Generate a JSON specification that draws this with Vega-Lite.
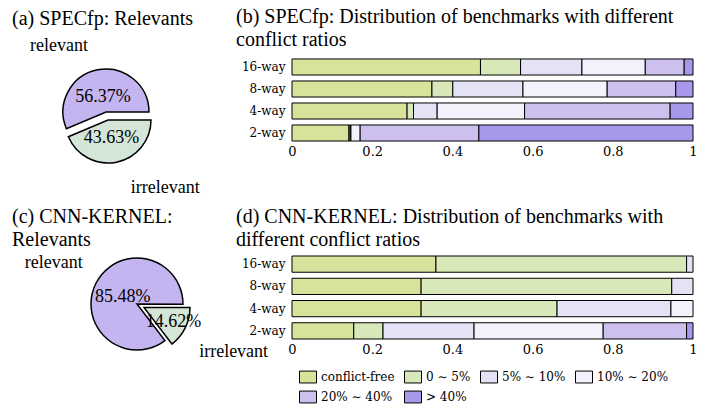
{
  "$schema": "https://vega.github.io/schema/vega-lite/v6.json",
  "padding": {"left": 12, "top": 7, "right": 5, "bottom": 0},
  "background": "white",
  "columns": 2,
  "bounds": "flush",
  "align": "each",
  "spacing": {"row": 85, "column": 88},
  "config": {
    "view": {"stroke": null},
    "title": {"anchor": "start", "frame": "group", "font": "Liberation Serif", "fontSize": 20, "fontWeight": "normal", "lineHeight": 23, "color": "black"},
    "text": {"font": "Liberation Serif", "fontSize": 18, "color": "black"}
  },
  "concat": [
    {
      "width": 192, "height": 112,
      "title": {"text": "(a) SPECfp: Relevants", "offset": 8},
      "data": {"values": [
        {"label": "relevant", "pct": 0.5637},
        {"label": "irrelevant", "pct": 0.4363}
      ]},
      "encoding": {
        "theta": {"field": "pct", "type": "quantitative", "stack": true, "scale": {"domain": [0, 1], "range": [1.5708, 7.854]}},
        "order": {"field": "label", "type": "ordinal", "sort": "ascending"},
        "detail": {"field": "label", "type": "nominal"}
      },
      "layer": [
        {"mark": {"type": "arc", "radius": 43, "stroke": "black", "strokeWidth": 1.5, "xOffset": -2},
         "encoding": {
           "fill": {"field": "label", "type": "nominal", "scale": {"domain": ["relevant", "irrelevant"], "range": ["#c4b4f0", "#d4e6d8"]}, "legend": null},
           "opacity": {"condition": {"test": "datum.label === 'relevant'", "value": 1}, "value": 0}}},
        {"mark": {"type": "arc", "radius": 43, "stroke": "black", "strokeWidth": 1.5, "xOffset": 0, "yOffset": 8},
         "encoding": {
           "fill": {"field": "label", "type": "nominal", "scale": {"domain": ["relevant", "irrelevant"], "range": ["#c4b4f0", "#d4e6d8"]}, "legend": null},
           "opacity": {"condition": {"test": "datum.label === 'irrelevant'", "value": 1}, "value": 0}}},
        {"mark": {"type": "text", "radius": 15, "xOffset": -2},
         "encoding": {"text": {"field": "pct", "type": "quantitative", "format": ".2%"},
           "opacity": {"condition": {"test": "datum.label === 'relevant'", "value": 1}, "value": 0}}},
        {"mark": {"type": "text", "radius": 18, "yOffset": 8},
         "encoding": {"text": {"field": "pct", "type": "quantitative", "format": ".2%"},
           "opacity": {"condition": {"test": "datum.label === 'irrelevant'", "value": 1}, "value": 0}}},
        {"mark": {"type": "text", "radius": 81, "thetaOffset": -0.42, "xOffset": -2},
         "encoding": {"text": {"field": "label", "type": "nominal"},
           "opacity": {"condition": {"test": "datum.label === 'relevant'", "value": 1}, "value": 0}}},
        {"mark": {"type": "text", "radius": 89, "thetaOffset": -0.5, "yOffset": 8},
         "encoding": {"text": {"field": "label", "type": "nominal"},
           "opacity": {"condition": {"test": "datum.label === 'irrelevant'", "value": 1}, "value": 0}}}
      ]
    },
    {
      "width": 401, "height": 88,
      "title": {"text": ["(b) SPECfp: Distribution of benchmarks with different", "conflict ratios"], "offset": 6, "dx": -56},
      "data": {"values": [
        {"way": "16-way", "cat": "conflict-free", "ci": 0, "v": 0.470},
        {"way": "16-way", "cat": "0 ∼ 5%", "ci": 1, "v": 0.100},
        {"way": "16-way", "cat": "5% ∼ 10%", "ci": 2, "v": 0.153},
        {"way": "16-way", "cat": "10% ∼ 20%", "ci": 3, "v": 0.158},
        {"way": "16-way", "cat": "20% ∼ 40%", "ci": 4, "v": 0.097},
        {"way": "16-way", "cat": "> 40%", "ci": 5, "v": 0.022},
        {"way": "8-way", "cat": "conflict-free", "ci": 0, "v": 0.349},
        {"way": "8-way", "cat": "0 ∼ 5%", "ci": 1, "v": 0.052},
        {"way": "8-way", "cat": "5% ∼ 10%", "ci": 2, "v": 0.175},
        {"way": "8-way", "cat": "10% ∼ 20%", "ci": 3, "v": 0.210},
        {"way": "8-way", "cat": "20% ∼ 40%", "ci": 4, "v": 0.171},
        {"way": "8-way", "cat": "> 40%", "ci": 5, "v": 0.043},
        {"way": "4-way", "cat": "conflict-free", "ci": 0, "v": 0.287},
        {"way": "4-way", "cat": "0 ∼ 5%", "ci": 1, "v": 0.016},
        {"way": "4-way", "cat": "5% ∼ 10%", "ci": 2, "v": 0.059},
        {"way": "4-way", "cat": "10% ∼ 20%", "ci": 3, "v": 0.218},
        {"way": "4-way", "cat": "20% ∼ 40%", "ci": 4, "v": 0.363},
        {"way": "4-way", "cat": "> 40%", "ci": 5, "v": 0.057},
        {"way": "2-way", "cat": "conflict-free", "ci": 0, "v": 0.142},
        {"way": "2-way", "cat": "0 ∼ 5%", "ci": 1, "v": 0.003},
        {"way": "2-way", "cat": "5% ∼ 10%", "ci": 2, "v": 0.002},
        {"way": "2-way", "cat": "10% ∼ 20%", "ci": 3, "v": 0.023},
        {"way": "2-way", "cat": "20% ∼ 40%", "ci": 4, "v": 0.296},
        {"way": "2-way", "cat": "> 40%", "ci": 5, "v": 0.534}
      ]},
      "mark": {"type": "bar", "stroke": "black", "strokeWidth": 1},
      "encoding": {
        "y": {"field": "way", "type": "nominal", "sort": ["16-way", "8-way", "4-way", "2-way"],
              "scale": {"paddingInner": 0.27, "paddingOuter": 0.135},
              "axis": {"title": null, "domain": false, "ticks": false, "labelFont": "DejaVu Serif", "labelFontSize": 12, "labelPadding": 7, "labelColor": "black"}},
        "x": {"field": "v", "type": "quantitative", "stack": "zero", "scale": {"domain": [0, 1]},
              "axis": {"title": null, "domain": false, "ticks": false, "grid": false, "values": [0, 0.2, 0.4, 0.6, 0.8, 1], "format": "~g", "labelFlush": false, "labelFont": "DejaVu Serif", "labelFontSize": 13, "labelPadding": 1, "labelColor": "black"}},
        "color": {"field": "cat", "type": "nominal",
                  "scale": {"domain": ["conflict-free", "0 ∼ 5%", "5% ∼ 10%", "10% ∼ 20%", "20% ∼ 40%", "> 40%"],
                            "range": ["#d8e29a", "#d8e8b8", "#e4e3f6", "#f3f1fb", "#cdc0ee", "#a898ec"]},
                  "legend": {"orient": "none", "legendX": 287, "legendY": 312, "columns": 4, "direction": "horizontal", "title": null,
                             "symbolType": "M-1,-0.7L1,-0.7L1,0.7L-1,0.7Z", "symbolSize": 289, "symbolStrokeColor": "black", "symbolStrokeWidth": 1, "symbolOpacity": 1,
                             "labelFont": "DejaVu Serif", "labelFontSize": 12, "labelColor": "black", "labelOffset": 4, "columnPadding": 7, "rowPadding": 3, "labelLimit": 200, "padding": 0}},
        "order": {"field": "ci", "type": "quantitative"}
      }
    },
    {
      "width": 192, "height": 102,
      "title": {"text": ["(c) CNN-KERNEL:", "Relevants"], "offset": 3},
      "data": {"values": [
        {"label": "relevant", "pct": 0.8548},
        {"label": "irrelevant", "pct": 0.1462}
      ]},
      "encoding": {
        "theta": {"field": "pct", "type": "quantitative", "stack": true, "scale": {"domain": [0, 1], "range": [1.5708, 7.854]}},
        "order": {"field": "label", "type": "ordinal", "sort": "ascending"},
        "detail": {"field": "label", "type": "nominal"}
      },
      "layer": [
        {"mark": {"type": "arc", "radius": 46, "stroke": "black", "strokeWidth": 1.5, "xOffset": 29},
         "encoding": {
           "fill": {"field": "label", "type": "nominal", "scale": {"domain": ["relevant", "irrelevant"], "range": ["#c4b4f0", "#d4e6d8"]}, "legend": null},
           "opacity": {"condition": {"test": "datum.label === 'relevant'", "value": 1}, "value": 0}}},
        {"mark": {"type": "arc", "radius": 46, "stroke": "black", "strokeWidth": 1.5, "xOffset": 36, "yOffset": 3.5},
         "encoding": {
           "fill": {"field": "label", "type": "nominal", "scale": {"domain": ["relevant", "irrelevant"], "range": ["#c4b4f0", "#d4e6d8"]}, "legend": null},
           "opacity": {"condition": {"test": "datum.label === 'irrelevant'", "value": 1}, "value": 0}}},
        {"mark": {"type": "text", "radius": 16, "xOffset": 29},
         "encoding": {"text": {"field": "pct", "type": "quantitative", "format": ".2%"},
           "opacity": {"condition": {"test": "datum.label === 'relevant'", "value": 1}, "value": 0}}},
        {"mark": {"type": "text", "radius": 33, "xOffset": 36, "yOffset": 3.5},
         "encoding": {"text": {"field": "pct", "type": "quantitative", "format": ".2%"},
           "opacity": {"condition": {"test": "datum.label === 'irrelevant'", "value": 1}, "value": 0}}},
        {"mark": {"type": "text", "radius": 93, "xOffset": 29},
         "encoding": {"text": {"field": "label", "type": "nominal"},
           "opacity": {"condition": {"test": "datum.label === 'relevant'", "value": 1}, "value": 0}}},
        {"mark": {"type": "text", "radius": 100, "xOffset": 36, "yOffset": 3.5},
         "encoding": {"text": {"field": "label", "type": "nominal"},
           "opacity": {"condition": {"test": "datum.label === 'irrelevant'", "value": 1}, "value": 0}}}
      ]
    },
    {
      "width": 401, "height": 89,
      "title": {"text": ["(d) CNN-KERNEL: Distribution of benchmarks with", "different conflict ratios"], "offset": 3, "dx": -56},
      "data": {"values": [
        {"way": "16-way", "cat": "conflict-free", "ci": 0, "v": 0.359},
        {"way": "16-way", "cat": "0 ∼ 5%", "ci": 1, "v": 0.625},
        {"way": "16-way", "cat": "5% ∼ 10%", "ci": 2, "v": 0.016},
        {"way": "8-way", "cat": "conflict-free", "ci": 0, "v": 0.322},
        {"way": "8-way", "cat": "0 ∼ 5%", "ci": 1, "v": 0.625},
        {"way": "8-way", "cat": "5% ∼ 10%", "ci": 2, "v": 0.053},
        {"way": "4-way", "cat": "conflict-free", "ci": 0, "v": 0.322},
        {"way": "4-way", "cat": "0 ∼ 5%", "ci": 1, "v": 0.339},
        {"way": "4-way", "cat": "5% ∼ 10%", "ci": 2, "v": 0.284},
        {"way": "4-way", "cat": "10% ∼ 20%", "ci": 3, "v": 0.055},
        {"way": "2-way", "cat": "conflict-free", "ci": 0, "v": 0.154},
        {"way": "2-way", "cat": "0 ∼ 5%", "ci": 1, "v": 0.073},
        {"way": "2-way", "cat": "5% ∼ 10%", "ci": 2, "v": 0.227},
        {"way": "2-way", "cat": "10% ∼ 20%", "ci": 3, "v": 0.322},
        {"way": "2-way", "cat": "20% ∼ 40%", "ci": 4, "v": 0.208},
        {"way": "2-way", "cat": "> 40%", "ci": 5, "v": 0.016}
      ]},
      "mark": {"type": "bar", "stroke": "black", "strokeWidth": 1},
      "encoding": {
        "y": {"field": "way", "type": "nominal", "sort": ["16-way", "8-way", "4-way", "2-way"],
              "scale": {"paddingInner": 0.27, "paddingOuter": 0.135},
              "axis": {"title": null, "domain": false, "ticks": false, "labelFont": "DejaVu Serif", "labelFontSize": 12, "labelPadding": 7, "labelColor": "black"}},
        "x": {"field": "v", "type": "quantitative", "stack": "zero", "scale": {"domain": [0, 1]},
              "axis": {"title": null, "domain": false, "ticks": false, "grid": false, "values": [0, 0.2, 0.4, 0.6, 0.8, 1], "format": "~g", "labelFlush": false, "labelFont": "DejaVu Serif", "labelFontSize": 13, "labelPadding": 1, "labelColor": "black"}},
        "color": {"field": "cat", "type": "nominal",
                  "scale": {"domain": ["conflict-free", "0 ∼ 5%", "5% ∼ 10%", "10% ∼ 20%", "20% ∼ 40%", "> 40%"],
                            "range": ["#d8e29a", "#d8e8b8", "#e4e3f6", "#f3f1fb", "#cdc0ee", "#a898ec"]},
                  "legend": {"orient": "none", "legendX": 287, "legendY": 312, "columns": 4, "direction": "horizontal", "title": null,
                             "symbolType": "M-1,-0.7L1,-0.7L1,0.7L-1,0.7Z", "symbolSize": 289, "symbolStrokeColor": "black", "symbolStrokeWidth": 1, "symbolOpacity": 1,
                             "labelFont": "DejaVu Serif", "labelFontSize": 12, "labelColor": "black", "labelOffset": 4, "columnPadding": 7, "rowPadding": 3, "labelLimit": 200, "padding": 0}},
        "order": {"field": "ci", "type": "quantitative"}
      }
    }
  ]
}
